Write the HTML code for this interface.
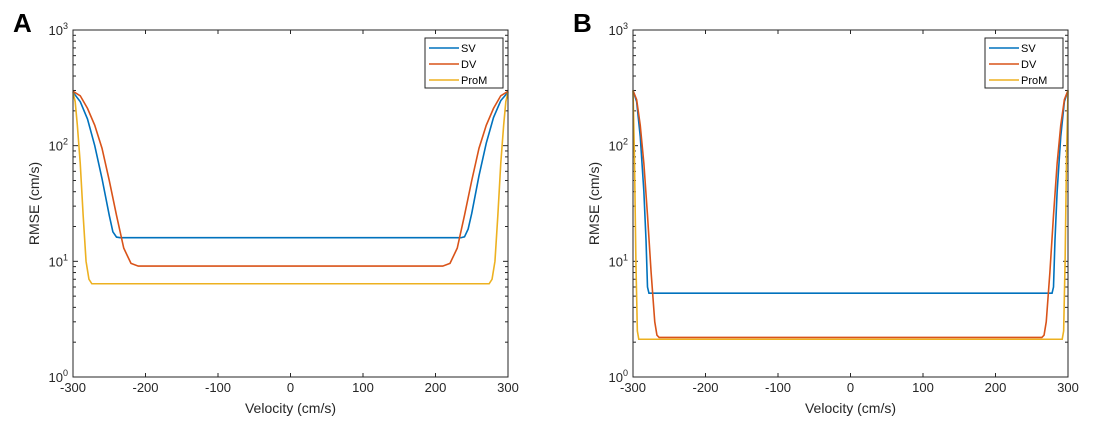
<!DOCTYPE html>
<html><head><meta charset="utf-8"><style>
body{margin:0;background:#fff;width:1120px;height:420px;overflow:hidden}
svg{font-family:"Liberation Sans",sans-serif}
</style></head><body>
<svg id="chart" width="1120" height="420"></svg>
<script>
const xTicks=[-300,-200,-100,0,100,200,300];
const yDecades=[0,1,2,3];
const seriesNames=["SV","DV","ProM"];
const colors=["#0072BD","#D95319","#EDB120"];
// Panel A
const aSVx=[-300,-290,-280,-270,-260,-250,-245,-240,-235,235,240,245,250,260,270,280,290,300];
const aSVy=[290,240,170,100,52,25,18,16.2,16,16,16.3,19,26,55,105,175,245,290];
const aDVx=[-300,-290,-280,-270,-260,-250,-240,-230,-220,-210,210,220,230,240,250,260,270,280,290,300];
const aDVy=[295,270,210,150,95,50,25,13,9.6,9.1,9.1,9.6,13,25,50,95,150,210,270,295];
const aPMx=[-300,-297,-294,-290,-286,-282,-278,-274,274,278,282,286,290,294,297,300];
const aPMy=[290,240,150,70,25,10,7,6.4,6.4,7,10,25,70,150,240,290];
// Panel B
const bSVx=[-300,-295,-290,-285,-282,-280,-278,278,280,282,285,290,295,300];
const bSVy=[300,240,120,40,15,6,5.3,5.3,6,15,40,120,240,300];
const bDVx=[-300,-295,-290,-285,-280,-275,-270,-267,-264,264,267,270,275,280,285,290,295,300];
const bDVy=[300,250,150,70,25,8,3,2.3,2.2,2.2,2.3,3,8,25,70,150,250,300];
const bPMx=[-300,-298,-296,-294,-292,292,294,296,298,300];
const bPMy=[300,80,10,2.5,2.12,2.12,2.5,10,80,300];

const NS="http://www.w3.org/2000/svg";
const svg=document.getElementById('chart');
function mk(tag,attrs,parent){const e=document.createElementNS(NS,tag);for(const k in attrs)e.setAttribute(k,attrs[k]);(parent||svg).appendChild(e);return e;}

function panel(label,left,series){
  const right=left+435, top=30, bottom=377;
  const g=mk('g',{});
  
  
  const xs=v=>left+(v+300)/600*(right-left);
  const ys=v=>bottom-Math.log10(v)/3*(bottom-top);
  const pl=mk('text',{x:left-60,y:32,'font-size':26,'font-weight':'bold'},g);pl.textContent=label;
  
  
  xTicks.forEach(t=>{const x=xs(t);
    mk('line',{x1:x,x2:x,y1:bottom,y2:bottom-4,stroke:'#262626'},g);
    mk('line',{x1:x,x2:x,y1:top,y2:top+4,stroke:'#262626'},g);
    const tx=mk('text',{x:x,y:bottom+15,'font-size':13,'text-anchor':'middle',fill:'#262626'},g);tx.textContent=t;
    
    
  });
  yDecades.forEach(d=>{const y=ys(Math.pow(10,d));
    mk('line',{x1:left,x2:left+5,y1:y,y2:y,stroke:'#262626'},g);
    mk('line',{x1:right,x2:right-5,y1:y,y2:y,stroke:'#262626'},g);
    const tx=mk('text',{x:left-5,y:y+5,'font-size':13,'text-anchor':'end',fill:'#262626'},g);
    tx.innerHTML='10<tspan dy="-6" font-size="9">'+d+'</tspan>';
    
    
    if(d<3)for(let m=2;m<10;m++){const yy=ys(m*Math.pow(10,d));
      mk('line',{x1:left,x2:left+3,y1:yy,y2:yy,stroke:'#262626'},g);
      mk('line',{x1:right,x2:right-3,y1:yy,y2:yy,stroke:'#262626'},g);}
  });
  series.forEach((s,i)=>{
    const p=mk('polyline',{points:s[0].map((v,j)=>xs(v)+','+ys(s[1][j])).join(' '),fill:'none',stroke:colors[i],'stroke-width':1.6},g);
    
    
  });
  const box=mk('rect',{x:left,y:top,width:right-left,height:bottom-top,fill:'none',stroke:'#262626'},g);
  
  
  const xl=mk('text',{x:(left+right)/2,y:bottom+36,'font-size':14,'text-anchor':'middle',fill:'#262626'},g);xl.textContent='Velocity (cm/s)';
  
  
  const yl=mk('text',{x:0,y:0,'font-size':14,'text-anchor':'middle',fill:'#262626',transform:`translate(${left-34},${(top+bottom)/2}) rotate(-90)`},g);yl.textContent='RMSE (cm/s)';
  
  
  const lg=mk('g',{},g);
  
  
  mk('rect',{x:right-83,y:top+8,width:78,height:50,fill:'#fff',stroke:'#262626'},lg);
  seriesNames.forEach((n,i)=>{const y=top+18+i*16;
    mk('line',{x1:right-79,x2:right-49,y1:y,y2:y,stroke:colors[i],'stroke-width':1.6},lg);
    const t=mk('text',{x:right-47,y:y+4,'font-size':11,fill:'#000'},lg);t.textContent=n;
    
    
  });
}
panel('A',73,[[aSVx,aSVy],[aDVx,aDVy],[aPMx,aPMy]]);
panel('B',633,[[bSVx,bSVy],[bDVx,bDVy],[bPMx,bPMy]]);
</script>
</body></html>
